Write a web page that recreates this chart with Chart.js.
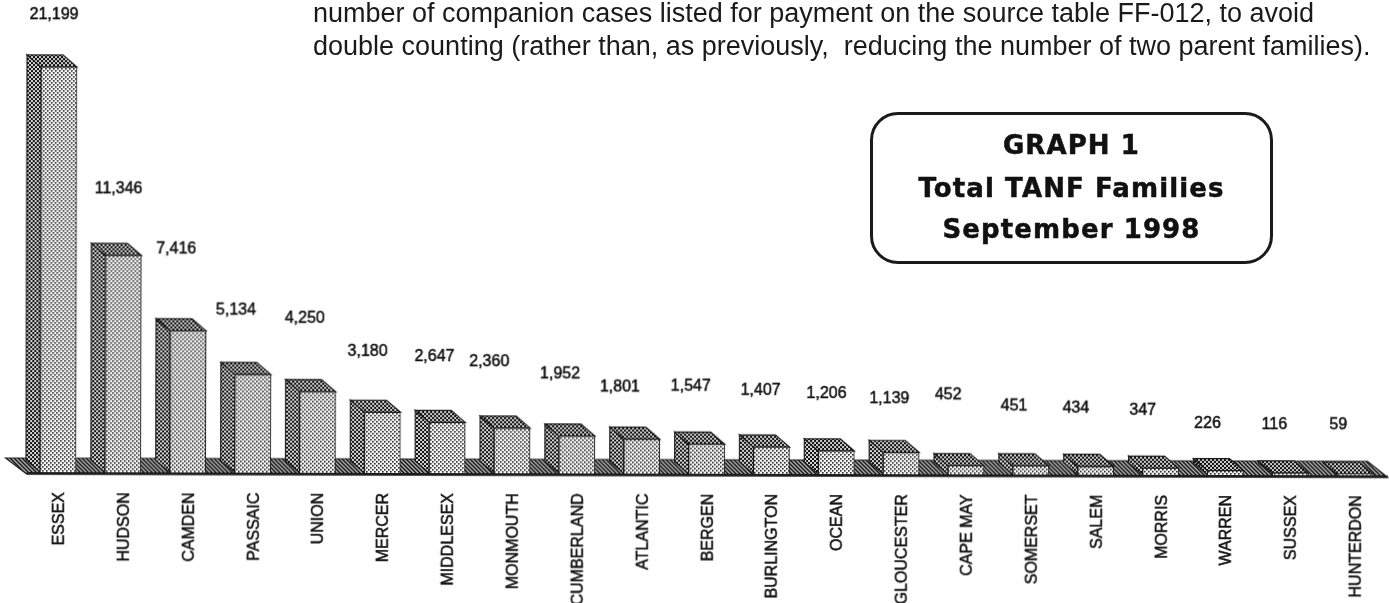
<!DOCTYPE html>
<html>
<head>
<meta charset="utf-8">
<title>Total TANF Families</title>
<script src="https://cdn.jsdelivr.net/npm/chart.js@4"></script>
<style>
html, body { margin: 0; padding: 0; background: #fff; overflow: hidden; }
body { width: 1389px; height: 603px; position: relative; font-family: "Liberation Sans", Arial, sans-serif; color: #1a1a1a; }
#chart { position: absolute; left: 0; top: 0; transform: rotate(0.14deg); transform-origin: 0 472px; filter: blur(0.45px); }
.note { position: absolute; left: 313px; font-size: 27px; line-height: 33px; white-space: pre; }
#box { position: absolute; left: 870px; top: 112px; width: 397px; height: 146px; border: 3px solid #1a1a1a; border-radius: 28px; text-align: center; font-family: "DejaVu Sans", sans-serif; font-weight: bold; font-size: 26px; letter-spacing: 1.1px; -webkit-text-stroke: 0.5px #111; color: #111; }
#box div { position: absolute; left: 0; right: 0; line-height: 30px; }
</style>
</head>
<body>
<canvas id="chart" width="1389" height="603"></canvas>
<div class="note" style="top:-3px">number of companion cases listed for payment on the source table FF-012, to avoid</div>
<div class="note" style="top:30px">double counting (rather than, as previously,  reducing the number of two parent families).</div>
<div id="box">
  <div style="top:15px">GRAPH 1</div>
  <div style="top:58px">Total TANF Families</div>
  <div style="top:99px">September 1998</div>
</div>
<script>
const counties = ['ESSEX', 'HUDSON', 'CAMDEN', 'PASSAIC', 'UNION', 'MERCER', 'MIDDLESEX', 'MONMOUTH', 'CUMBERLAND', 'ATLANTIC', 'BERGEN', 'BURLINGTON', 'OCEAN', 'GLOUCESTER', 'CAPE MAY', 'SOMERSET', 'SALEM', 'MORRIS', 'WARREN', 'SUSSEX', 'HUNTERDON'];
const families = [21199, 11346, 7416, 5134, 4250, 3180, 2647, 2360, 1952, 1801, 1547, 1407, 1206, 1139, 452, 451, 434, 347, 226, 116, 59];

// value labels float at uneven spots over each bar in the original
const labelShiftX = [-5, -5, -12, -17, -13, -15, -13, -23, -17, -22, -16, -11, -10, -12, -18, -17, -20, -18, -18, -16, -17];
const labelShiftY = [-52, -67, -82, -64, -73, -61, -66, -66, -62, -52, -58, -57, -57, -54, -71, -60, -58, -58, -47, -48, -49];

const DEPTH_X = 14;
const DEPTH_Y = 12;

// --- UTILITY: halftone fills ---
function dotPattern(paper, ink, dot) {
    const tile = document.createElement('canvas');
    tile.width = 4;
    tile.height = 4;
    const t = tile.getContext('2d');
    t.fillStyle = paper;
    t.fillRect(0, 0, 4, 4);
    t.fillStyle = ink;
    t.fillRect(0, 0, dot, dot);
    t.fillRect(2, 2, dot, dot);
    return t.createPattern(tile, 'repeat');
}

function hatchPattern() {
    const tile = document.createElement('canvas');
    tile.width = 4;
    tile.height = 4;
    const t = tile.getContext('2d');
    t.fillStyle = '#b4b4b4';
    t.fillRect(0, 0, 4, 4);
    t.strokeStyle = '#141414';
    t.lineWidth = 1.5;
    t.beginPath();
    t.moveTo(-1, -1);
    t.lineTo(5, 5);
    t.moveTo(-3, 1);
    t.lineTo(3, 7);
    t.moveTo(1, -3);
    t.lineTo(7, 3);
    t.stroke();
    return t.createPattern(tile, 'repeat');
}

const frontFill = dotPattern('#f8f8f8', '#222222', 1.6);
const sideFill = dotPattern('#d8d8d8', '#111111', 2);
const topFill = dotPattern('#cccccc', '#111111', 2);
const floorFill = hatchPattern();

function poly(ctx, points, fill) {
    ctx.beginPath();
    points.forEach((p, i) => (i ? ctx.lineTo(p[0], p[1]) : ctx.moveTo(p[0], p[1])));
    ctx.closePath();
    ctx.fillStyle = fill;
    ctx.fill();
    ctx.stroke();
}

// --- PLUGIN: floor and bar depth, drawn under the library's bars ---
const depthPlugin = {
    id: 'depth',
    beforeDatasetsDraw(chart) {
        const ctx = chart.ctx;
        const a = chart.chartArea;
        ctx.save();
        ctx.strokeStyle = '#1c1c1c';
        ctx.lineWidth = 1.2;
        poly(ctx, [[a.left - 20, a.bottom - DEPTH_Y - 2], [a.left + 1, a.bottom + 2], [a.right, a.bottom + 2], [a.right - 20, a.bottom - DEPTH_Y - 2]], floorFill);
        ctx.fillStyle = '#1c1c1c';
        ctx.fillRect(a.left + 1, a.bottom, a.right - a.left - 1, 2.5);
        chart.getDatasetMeta(0).data.forEach(bar => {
            const { x, y, base, width } = bar.getProps(['x', 'y', 'base', 'width'], true);
            const l = x - width / 2;
            const r = x + width / 2;
            poly(ctx, [[l, base], [l, y], [l - DEPTH_X, y - DEPTH_Y], [l - DEPTH_X, base - DEPTH_Y]], sideFill);
            poly(ctx, [[l, y], [r, y], [r - DEPTH_X, y - DEPTH_Y], [l - DEPTH_X, y - DEPTH_Y]], topFill);
        });
        ctx.restore();
    },
    afterDatasetsDraw(chart) {
        const ctx = chart.ctx;
        ctx.save();
        ctx.fillStyle = '#111';
        ctx.strokeStyle = '#111';
        ctx.lineWidth = 0.5;
        ctx.font = '16px "Liberation Sans", Arial, sans-serif';
        ctx.textAlign = 'center';
        ctx.textBaseline = 'middle';
        chart.getDatasetMeta(0).data.forEach((bar, i) => {
            const text = families[i].toLocaleString('en-US');
            ctx.fillText(text, bar.x + labelShiftX[i], bar.y + labelShiftY[i]);
            ctx.strokeText(text, bar.x + labelShiftX[i], bar.y + labelShiftY[i]);
        });
        ctx.restore();
    }
};

// --- CHART: Total TANF families by county ---
new Chart(document.getElementById('chart').getContext('2d'), {
    type: 'bar',
    data: {
        labels: counties,
        datasets: [{
            data: families,
            backgroundColor: frontFill,
            borderColor: '#1c1c1c',
            borderWidth: 1,
            barThickness: 36
        }]
    },
    options: {
        responsive: false,
        animation: false,
        layout: { padding: { left: 25.6, right: 1.4, top: 0, bottom: 0 } },
        plugins: { legend: { display: false }, tooltip: { enabled: false } },
        scales: {
            y: { display: false, min: 0, max: 24700 },
            x: {
                grid: { display: false },
                border: { display: false },
                afterFit(scale) { scale.height = 131; },
                ticks: {
                    autoSkip: false,
                    minRotation: 90,
                    maxRotation: 90,
                    padding: 12,
                    labelOffset: 1.5,
                    color: '#111',
                    textStrokeColor: '#111',
                    textStrokeWidth: 0.5,
                    font: { family: '"Liberation Sans", Arial, sans-serif', size: 16 }
                }
            }
        }
    },
    plugins: [depthPlugin]
});
</script>
</body>
</html>
